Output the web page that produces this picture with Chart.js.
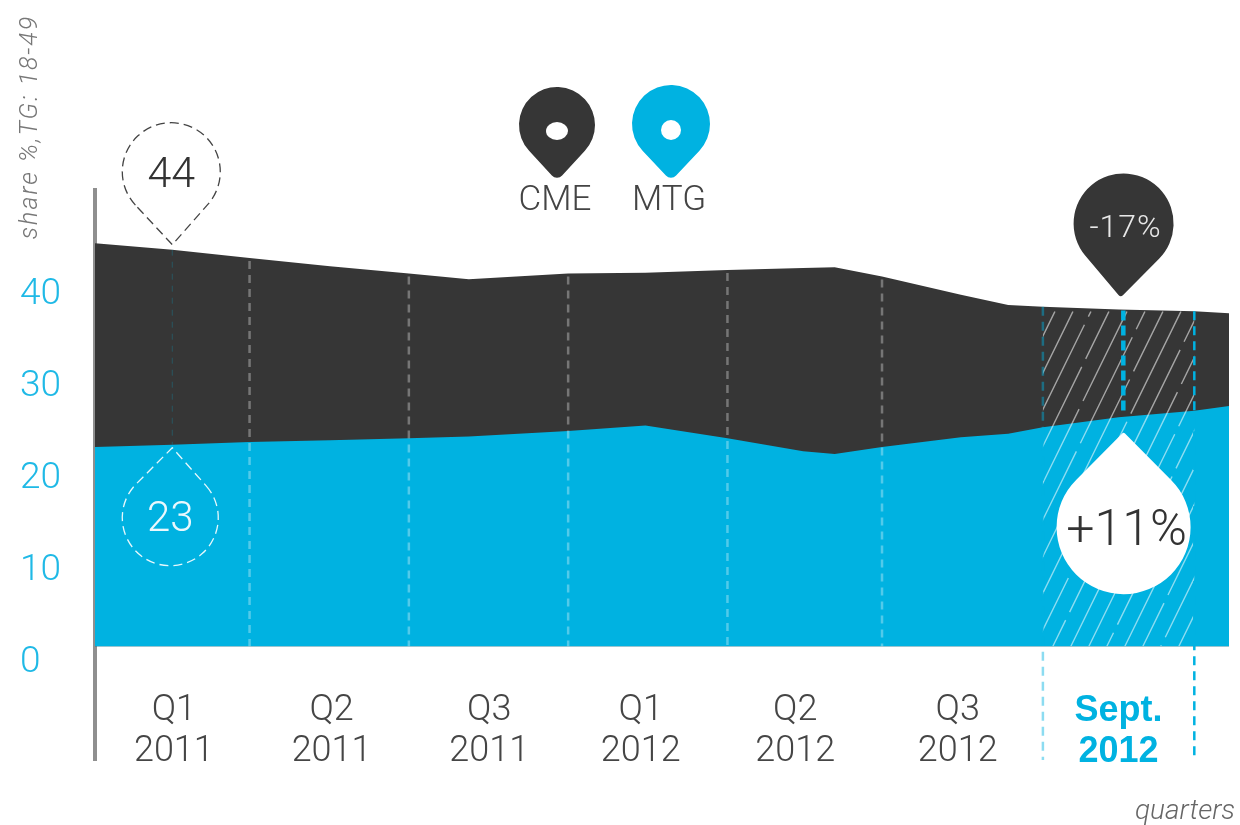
<!DOCTYPE html>
<html>
<head>
<meta charset="utf-8">
<style>html,body{margin:0;padding:0;background:#fff}canvas{display:block;filter:blur(.5px)}</style>
<script src="https://cdn.jsdelivr.net/npm/chart.js@4"></script>
</head>
<body>
<canvas id="c" width="1240" height="825"></canvas>
<script>
const categories = [['Q1','2011'],['Q2','2011'],['Q3','2011'],['Q1','2012'],['Q2','2012'],['Q3','2012'],['Sept.','2012']];
const categoryPositions = [0.01,1.01,2.01,2.97,3.95,4.98,6];
const positions = [-0.49,0,0.49,1,1.5,1.88,2.51,3,3.52,4,4.2,4.5,5,5.3,5.52,6,6.48,6.7];
const cmeValues = [45.3,44.6,43.7,42.8,42.0,41.4,42.0,42.1,42.4,42.6,42.7,41.7,39.7,38.6,38.4,38.1,37.9,37.7];
const mtgValues = [23.15,23.4,23.7,23.9,24.1,24.3,24.9,25.5,24.1,22.7,22.4,23.15,24.2,24.6,25.3,26.4,27.1,27.6];
const yTicks = [0,10,20,30,40];
const dashPositions = [0.49,1.5,2.51,3.52,4.5];
const highlightStart = 5.52, highlightMid = 6.03, highlightEnd = 6.48;
const seriesNames = ['CME','MTG'];
const startLabels = ['44','23'];
const changeLabels = ['-17%','+11%'];
const axisBase = 1.5;
const tickNudge = 0.27;
const DARK = '#363636', CYAN = '#00b2e1', TEXT = '#454545';
const thin = '"Roboto","Liberation Sans",sans-serif';

function toData(v){ return positions.map((x,i)=>({x, y:v[i]})); }
function pin(ctx,cx,cy,r,tx,ty,round){
  const th = Math.atan2(ty-cy,tx-cx), d = Math.hypot(tx-cx,ty-cy), a = Math.acos(r/d);
  ctx.beginPath();
  ctx.arc(cx,cy,r,th+a,th-a+Math.PI*2);
  ctx.arcTo(tx,ty,cx+r*Math.cos(th+a),cy+r*Math.sin(th+a),round||0.01);
  ctx.closePath();
}
function text(ctx,s,x,y,font,color,spacing){
  ctx.font = font; ctx.fillStyle = color; ctx.textAlign='center'; ctx.textBaseline='middle';
  ctx.letterSpacing = (spacing||0)+'px';
  ctx.fillText(s,x,y);
  ctx.letterSpacing = '0px';
}
function interp(arr,xv){
  for(let i=1;i<positions.length;i++){ if(xv<=positions[i]){const t=(xv-positions[i-1])/(positions[i]-positions[i-1]);return arr[i-1]+(arr[i]-arr[i-1])*t;} }
  return arr[arr.length-1];
}

const decorations = {
  id:'decorations',
  afterDatasetsDraw(chart){
    const ctx = chart.ctx, X = chart.scales.x, Y = chart.scales.y;
    const base = Y.getPixelForValue(axisBase);
    ctx.save();
    // quarter separators
    dashPositions.forEach(p=>{
      const px = X.getPixelForValue(p), top = Y.getPixelForValue(interp(cmeValues,p));
      ctx.beginPath(); ctx.setLineDash([8,6]); ctx.lineWidth=2.5;
      ctx.strokeStyle='rgba(255,255,255,.32)';
      ctx.moveTo(px,top+3); ctx.lineTo(px,base); ctx.stroke();
    });
    const q0 = X.getPixelForValue(0);
    ctx.beginPath(); ctx.setLineDash([6,6]); ctx.lineWidth=1;
    ctx.strokeStyle='rgba(0,178,225,.25)';
    ctx.moveTo(q0,Y.getPixelForValue(cmeValues[1])); ctx.lineTo(q0,Y.getPixelForValue(mtgValues[1])); ctx.stroke();

    // hatch over the highlighted month
    const hs = X.getPixelForValue(highlightStart), he = X.getPixelForValue(highlightEnd);
    const hTop = Y.getPixelForValue(interp(cmeValues,highlightEnd));
    ctx.save();
    ctx.beginPath(); ctx.rect(hs,hTop,he-hs,base-hTop); ctx.clip();
    ctx.setLineDash([118,9]); ctx.lineWidth=1.4; ctx.strokeStyle='rgba(255,255,255,.55)';
    let n = 0;
    for(let sx=hs-170;sx<he+40;sx+=18){
      ctx.lineDashOffset = (n++)*47;
      ctx.beginPath(); ctx.moveTo(sx,base); ctx.lineTo(sx+0.49*(base-hTop),hTop); ctx.stroke();
    }
    ctx.lineDashOffset = 0;
    ctx.restore();

    // highlighted month bounds
    const bottom = chart.chartArea.bottom;
    ctx.lineWidth=2.5; ctx.setLineDash([9,6]);
    ctx.strokeStyle='rgba(0,178,225,.45)';
    ctx.beginPath(); ctx.moveTo(hs,Y.getPixelForValue(interp(cmeValues,highlightStart))); ctx.lineTo(hs,bottom); ctx.stroke();
    ctx.strokeStyle=CYAN;
    ctx.beginPath(); ctx.moveTo(he,hTop); ctx.lineTo(he,bottom); ctx.stroke();
    const hm = X.getPixelForValue(highlightMid);
    ctx.lineWidth=4.5; ctx.setLineDash([10,5]);
    ctx.beginPath(); ctx.moveTo(hm,Y.getPixelForValue(interp(cmeValues,highlightMid))+1); ctx.lineTo(hm,Y.getPixelForValue(interp(mtgValues,highlightMid))-2); ctx.stroke();
    ctx.setLineDash([]);

    // start-value pins
    const tx0 = X.getPixelForValue(0);
    const topPin = Y.getPixelForValue(cmeValues[1]);
    const lowPin = Y.getPixelForValue(mtgValues[1]);
    ctx.setLineDash([9,5]); ctx.lineWidth=1.3; ctx.strokeStyle='#444';
    pin(ctx,tx0-1,topPin-78,49,tx0,topPin-5); ctx.stroke();
    text(ctx,startLabels[0],tx0-1,topPin-73,'300 43px '+thin,'#333');
    ctx.strokeStyle='rgba(255,255,255,.9)';
    pin(ctx,tx0-2,lowPin+73,48,tx0,lowPin+3); ctx.stroke();
    text(ctx,startLabels[1],tx0-2,lowPin+76,'300 42px '+thin,'#eaf8fd');
    ctx.setLineDash([]);

    // change pins
    const t6 = X.getPixelForValue(6);
    const ct = Y.getPixelForValue(cmeValues[15]);
    const mt = Y.getPixelForValue(mtgValues[15]);
    ctx.fillStyle=DARK; pin(ctx,t6+5,ct-86,50,t6+2,ct-12,3); ctx.fill();
    text(ctx,changeLabels[0],t6+7,ct-81,'300 32px '+thin,'#e8e8e8',1);
    ctx.fillStyle='#fff'; pin(ctx,t6+5,mt+110,67,t6+5,mt+15,2); ctx.fill();
    text(ctx,changeLabels[1],t6+8,mt+115,'300 50px '+thin,'#333');

    // legend
    [[557,125,38,DARK,11,9,555],[671,124,39,CYAN,10,10,669]].forEach((l,i)=>{
      ctx.fillStyle=l[3]; pin(ctx,l[0],l[1],l[2],l[0],181,7); ctx.fill();
      ctx.fillStyle='#fff'; ctx.beginPath(); ctx.ellipse(l[0],l[1]+6,l[4],l[5],0,0,Math.PI*2); ctx.fill();
      text(ctx,seriesNames[i],l[6],201,'300 35px '+thin,'#444');
    });

    // axis captions
    text(ctx,'quarters',1185,812,'italic 300 28px '+thin,'#666');
    ctx.translate(31,127); ctx.rotate(-Math.PI/2);
    text(ctx,'share %,TG: 18-49',0,0,'italic 300 25px '+thin,'#777',2);
    ctx.restore();
  }
};

new Chart(document.getElementById('c'),{
  type:'line',
  data:{datasets:[
    {label:seriesNames[0],data:toData(cmeValues),backgroundColor:DARK,borderColor:DARK,borderWidth:0,pointRadius:0,tension:0,fill:{value:axisBase},order:2},
    {label:seriesNames[1],data:toData(mtgValues),backgroundColor:CYAN,borderColor:CYAN,borderWidth:0,pointRadius:0,tension:0,fill:{value:axisBase},order:1}
  ]},
  options:{
    responsive:false,animation:false,
    layout:{padding:{left:20,top:190,right:11,bottom:65}},
    plugins:{legend:{display:false},tooltip:{enabled:false},title:{display:false}},
    scales:{
      x:{type:'linear',position:{y:axisBase},min:-0.49,max:6.7,
        grid:{display:false,drawTicks:false},border:{display:false},
        afterBuildTicks(s){s.ticks=categoryPositions.map(v=>({value:v}));},
        ticks:{autoSkip:false,maxRotation:0,padding:44,
          callback:(v,i)=>categories[i],
          color:(c)=>c.index===6?CYAN:TEXT,
          font:(c)=>c.index===6?{family:'"Liberation Sans",sans-serif',size:36,weight:'bold',lineHeight:'41px'}:{family:thin,size:36,weight:'300',lineHeight:'41px'}
        }},
      y:{type:'linear',position:'left',min:-10.87,max:51.09,
        afterFit(s){s.width=75;},
        grid:{display:false,drawTicks:false},
        border:{display:true,color:'#8f8f8f',width:4},
        afterBuildTicks(s){s.ticks=yTicks.map(v=>({value:v-tickNudge}));},
        ticks:{crossAlign:'far',padding:0,color:'#1fb9e6',autoSkip:false,
          callback:(v,i)=>String(yTicks[i]),
          font:{family:thin,size:37,weight:'300'}}}
    }
  },
  plugins:[decorations]
});
</script>
</body>
</html>
